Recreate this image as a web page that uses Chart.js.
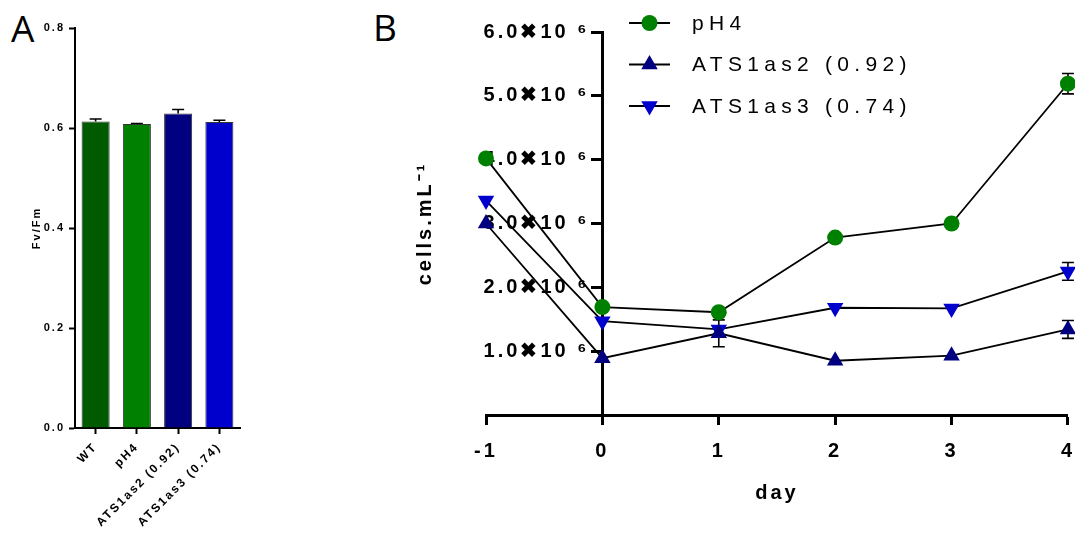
<!DOCTYPE html>
<html>
<head>
<meta charset="utf-8">
<script src="https://cdn.jsdelivr.net/npm/chart.js"></script>
<style>
  html, body { margin: 0; padding: 0; background: #fff; }
  body { width: 1075px; height: 536px; position: relative; overflow: hidden; }
  canvas { position: absolute; top: 0; }
  #chartA { left: 0; }
  #chartB { left: 300px; }
  .panel { position: absolute; font-family: "Open Sans", sans-serif; font-size: 37px; line-height: 36px; color: #000; }
</style>
</head>
<body>
<div class="panel" style="left:11px;top:10px">A</div>
<div class="panel" style="left:373px;top:9px">B</div>
<canvas id="chartA" width="270" height="536"></canvas>
<canvas id="chartB" width="789" height="536"></canvas>
<script>
// panel A - Fv/Fm of each strain
const strains = ['WT', 'pH4', 'ATS1as2 (0.92)', 'ATS1as3 (0.74)'];
const fvfm = [0.613, 0.608, 0.629, 0.612];
const fvfmErr = [0.005, 0.001, 0.008, 0.0035];
const fvfmTicks = [0, 0.2, 0.4, 0.6, 0.8];

// panel B - cell counts per day
const days = [-1, 0, 1, 2, 3, 4];
const cellsPH4 = [4.02e6, 1.69e6, 1.61e6, 2.78e6, 3.00e6, 5.19e6];
const cellsAs2 = [3.00e6, 0.89e6, 1.28e6, 0.85e6, 0.93e6, 1.34e6];
const cellsAs3 = [3.36e6, 1.47e6, 1.34e6, 1.68e6, 1.67e6, 2.25e6];
const errPH4 = [0, 0, 0, 0, 0, 0.16e6];
const errAs2 = [0, 0, 0.21e6, 0, 0, 0.14e6];
const errAs3 = [0, 0, 0, 0, 0, 0.14e6];
const cellTicks = [0, 1e6, 2e6, 3e6, 4e6, 5e6, 6e6];

const FONT = '"Liberation Sans", Arial, sans-serif';
const barColors = ['#005a00', '#008000', '#000080', '#0000cd'];

// GraphPad-like letter spacing on all canvas text
const spacing = px => ({
  id: 'spacing',
  beforeUpdate(chart) { chart.ctx.letterSpacing = px; },
  beforeDraw(chart) { chart.ctx.letterSpacing = px; }
});

const errorBars = (errs, cap, upperOnly) => ({
  id: 'errorBars',
  beforeDatasetsDraw(chart) {
    const ctx = chart.ctx;
    const ys = chart.scales.y;
    ctx.save();
    ctx.strokeStyle = '#000';
    ctx.lineWidth = 1.6;
    chart.data.datasets.forEach((ds, i) => {
      chart.getDatasetMeta(i).data.forEach((el, j) => {
        const e = errs[i][j];
        if (!e) return;
        const d = ds.data[j];
        const v = typeof d === 'object' ? d.y : d;
        const top = ys.getPixelForValue(v + e);
        const bot = upperOnly ? ys.getPixelForValue(v) : ys.getPixelForValue(v - e);
        ctx.beginPath();
        ctx.moveTo(el.x, top); ctx.lineTo(el.x, bot);
        ctx.moveTo(el.x - cap / 2, top); ctx.lineTo(el.x + cap / 2, top);
        if (!upperOnly) { ctx.moveTo(el.x - cap / 2, bot); ctx.lineTo(el.x + cap / 2, bot); }
        ctx.stroke();
      });
    });
    ctx.restore();
  }
});

function marker(ctx, style, rot, r, x, y) {
  ctx.beginPath();
  if (style === 'circle') {
    ctx.arc(x, y, r, 0, Math.PI * 2);
  } else {
    let a = rot * Math.PI / 180;
    for (let k = 0; k < 3; k++) {
      const px = x + Math.sin(a) * r, py = y - Math.cos(a) * r;
      if (k) ctx.lineTo(px, py); else ctx.moveTo(px, py);
      a += 2 * Math.PI / 3;
    }
    ctx.closePath();
  }
  ctx.fill();
}

// legend sitting right of the y axis
const sideLegend = {
  id: 'sideLegend',
  afterDraw(chart) {
    const ctx = chart.ctx;
    const x0 = 329, len = 41, tx = 392, y0 = 23, gap = 41.5;
    ctx.save();
    ctx.letterSpacing = '5.3px';
    ctx.font = '21px ' + FONT;
    ctx.textBaseline = 'middle';
    chart.data.datasets.forEach((ds, i) => {
      const y = y0 + i * gap;
      ctx.strokeStyle = '#000';
      ctx.lineWidth = 2;
      ctx.beginPath(); ctx.moveTo(x0, y); ctx.lineTo(x0 + len, y); ctx.stroke();
      ctx.fillStyle = ds.pointBackgroundColor;
      marker(ctx, ds.pointStyle, ds.pointRotation || 0, ds.pointRadius, x0 + len / 2, y);
      ctx.fillStyle = '#000';
      ctx.fillText(ds.label, tx, y + 1);
    });
    ctx.restore();
  }
};

new Chart(document.getElementById('chartA'), {
  type: 'bar',
  data: {
    labels: strains,
    datasets: [{
      data: fvfm,
      backgroundColor: barColors,
      borderColor: '#333',
      borderWidth: 1,
      barPercentage: 0.68,
      categoryPercentage: 1
    }]
  },
  options: {
    responsive: false,
    animation: false,
    devicePixelRatio: 1,
    layout: { padding: { left: 0, top: 28, right: 30, bottom: 0 } },
    plugins: { legend: { display: false }, tooltip: { enabled: false } },
    scales: {
      x: {
        grid: { drawOnChartArea: false, offset: false, tickLength: 6, tickWidth: 2, tickColor: '#000' },
        border: { color: '#000', width: 2 },
        ticks: { color: '#000', font: { family: FONT, size: 12, weight: 'bold' }, minRotation: 45, maxRotation: 45, padding: 6, autoSkip: false },
        afterFit: s => { s.height = 108; }
      },
      y: {
        min: 0, max: 0.8,
        afterBuildTicks: s => { s.ticks = fvfmTicks.map(v => ({ value: v })); },
        grid: { drawOnChartArea: false, tickLength: 6, tickWidth: 2, tickColor: '#000' },
        border: { color: '#000', width: 2 },
        ticks: { color: '#000', font: { family: FONT, size: 11, weight: 'bold' }, padding: 4, callback: v => v.toFixed(1) },
        title: { display: true, text: 'Fv/Fm', color: '#000', font: { family: FONT, size: 11, weight: 'bold' }, padding: { top: 30, bottom: 0 } },
        afterFit: s => { s.width = 75; }
      }
    }
  },
  plugins: [spacing('2px'), errorBars([fvfmErr], 12, true)]
});

const series = (vals) => days.map((d, i) => ({ x: d, y: vals[i] }));
const lineStyle = { borderColor: '#000', borderWidth: 1.8, pointBorderWidth: 0, clip: false, yAxisID: 'y' };

new Chart(document.getElementById('chartB'), {
  type: 'line',
  data: {
    datasets: [
      { label: 'pH4', data: series(cellsPH4), pointStyle: 'circle', pointRadius: 8, pointBackgroundColor: '#008000', ...lineStyle },
      { label: 'ATS1as2 (0.92)', data: series(cellsAs2), pointStyle: 'triangle', pointRadius: 9.5, pointBackgroundColor: '#000080', ...lineStyle },
      { label: 'ATS1as3 (0.74)', data: series(cellsAs3), pointStyle: 'triangle', pointRotation: 180, pointRadius: 9.5, pointBackgroundColor: '#0000cd', ...lineStyle }
    ]
  },
  options: {
    responsive: false,
    animation: false,
    devicePixelRatio: 1,
    layout: { padding: { left: 100, top: 32, right: 8, bottom: 0 } },
    plugins: { legend: { display: false }, tooltip: { enabled: false } },
    scales: {
      x: {
        type: 'linear', min: -1, max: 4,
        ticks: { stepSize: 1, color: '#000', font: { family: FONT, size: 20, weight: 'bold' }, padding: 14 },
        grid: { drawOnChartArea: false, tickLength: 10, tickWidth: 3, tickColor: '#000' },
        border: { color: '#000', width: 3 },
        title: { display: true, text: 'day', color: '#000', font: { family: FONT, size: 20, weight: 'bold' }, padding: { top: 0, bottom: 31 } },
        afterFit: s => { s.height = 121; }
      },
      y: {
        position: { x: 0 },
        min: 0, max: 6e6,
        afterBuildTicks: s => { s.ticks = cellTicks.map(v => ({ value: v })); },
        grid: { drawOnChartArea: false, tickLength: 10, tickWidth: 3, tickColor: '#000' },
        border: { color: '#000', width: 3 },
        ticks: { color: '#000', font: { family: FONT, size: 20, weight: 'bold' },
                 callback: v => v === 0 ? '' : (v / 1e6).toFixed(1) + '\u271610 \u2076\u2002' }
      },
      yTitle: {
        axis: 'y', position: 'left', min: 0, max: 6e6,
        ticks: { display: false },
        grid: { display: false },
        border: { display: false },
        title: { display: true, text: 'cells.mL\u207B\u00B9', color: '#000', font: { family: FONT, size: 20, weight: 'bold' }, padding: { top: 13, bottom: 0 } },
        afterFit: s => { s.width = 86; }
      }
    }
  },
  plugins: [spacing('3px'), errorBars([errPH4, errAs2, errAs3], 12, false), sideLegend]
});
</script>
</body>
</html>
